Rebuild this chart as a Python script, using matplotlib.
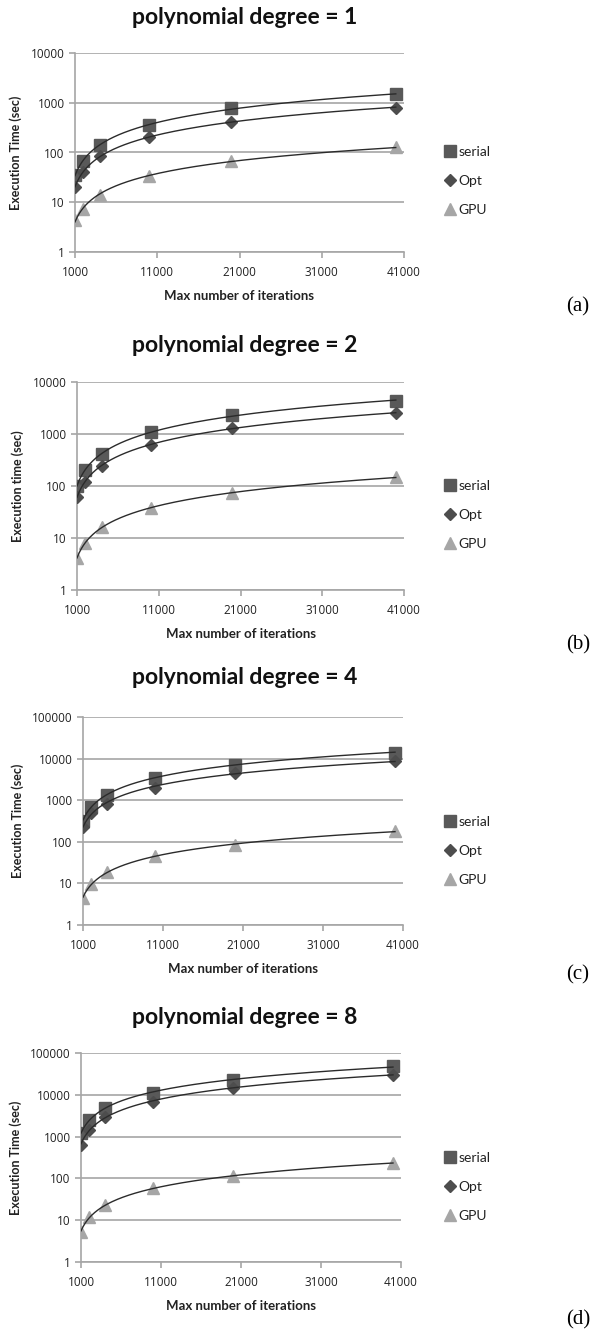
import numpy as np
import matplotlib
matplotlib.use("Agg")
import matplotlib.pyplot as plt
from matplotlib.ticker import FixedLocator, NullLocator

# max number of iterations (same for all four panels)
iterations = [1000, 2000, 4000, 10000, 20000, 40000]

degrees = [1, 2, 4, 8]
panel_tags = ["(a)", "(b)", "(c)", "(d)"]
ylabels = ["Execution Time (sec)", "Execution time (sec)",
           "Execution Time (sec)", "Execution Time (sec)"]
ymax = [10000, 10000, 100000, 100000]

serial_d1 = [35, 69, 140, 350, 790, 1480]
opt_d1 = [20, 41, 84, 207, 415, 790]
gpu_d1 = [4.3, 7.3, 14.3, 33, 69, 127]

serial_d2 = [100, 204, 415, 1100, 2300, 4300]
opt_d2 = [62, 120, 245, 615, 1300, 2570]
gpu_d2 = [4.2, 7.9, 16, 38, 72, 150]

serial_d4 = [324, 690, 1370, 3450, 7200, 14000]
opt_d4 = [229, 500, 790, 1990, 4500, 8900]
gpu_d4 = [4.5, 9.5, 18.7, 45, 86, 177]

serial_d8 = [1200, 2500, 4800, 11000, 23000, 48000]
opt_d8 = [630, 1450, 3000, 6900, 14500, 30000]
gpu_d8 = [5.2, 12, 23, 58, 114, 230]

serial_all = [serial_d1, serial_d2, serial_d4, serial_d8]
opt_all = [opt_d1, opt_d2, opt_d4, opt_d8]
gpu_all = [gpu_d1, gpu_d2, gpu_d4, gpu_d8]

W, H = 595, 1334
fig = plt.figure(figsize=(W / 100, H / 100), dpi=100)
fig.patch.set_facecolor("white")

# pixel boxes: left, top, right, bottom of plot area
boxes = [(75, 53, 404, 252), (77, 382, 404, 590),
         (83, 717, 403, 925), (81, 1053, 401, 1262)]
title_ys = [18, 345, 678, 1017]
legend_ys = [181, 515, 851, 1187]
tag_ys = [307, 645, 975, 1320]

title_font = ["Lato", "DejaVu Sans"]
tick_font = ["Open Sans", "DejaVu Sans"]
grid_col = "#a6a6a6"


def power_fit(x, y):
    b, a = np.polyfit(np.log(x), np.log(y), 1)
    xs = np.linspace(min(x), max(x), 300)
    return xs, np.exp(a) * xs ** b


for i in range(4):
    l, t, r, b = boxes[i]
    ax = fig.add_axes([l / W, 1 - b / H, (r - l) / W, (b - t) / H])
    x = iterations

    series = [
        (serial_all[i], "s", "#595959", 8.5, "serial"),
        (opt_all[i], "D", "#4d4d4d", 6, "Opt"),
        (gpu_all[i], "^", "#a6a6a6", 8.5, "GPU"),
    ]
    for y, m, c, ms, name in series:
        ax.plot(x, y, linestyle="none", marker=m, color=c, markersize=ms,
                label=name, zorder=3)
    for y, m, c, ms, name in series:
        xs, ys = power_fit(x, y)
        ax.plot(xs, ys, color="#2b2b2b", linewidth=1.0, zorder=4)

    ax.set_yscale("log")
    ax.set_ylim(1, ymax[i])
    ax.set_xlim(1000, 41000)
    yt = [10 ** k for k in range(int(np.log10(ymax[i])) + 1)]
    ax.yaxis.set_major_locator(FixedLocator(yt))
    ax.yaxis.set_minor_locator(NullLocator())
    ax.set_yticklabels([str(v) for v in yt])
    ax.set_xticks([1000, 11000, 21000, 31000, 41000])
    ax.set_xticklabels(["1000", "11000", "21000", "31000", "41000"])

    ax.grid(axis="y", color=grid_col, linewidth=1.2)
    ax.set_axisbelow(True)
    for s in ["top", "right"]:
        ax.spines[s].set_visible(False)
    for s in ["left", "bottom"]:
        ax.spines[s].set_color(grid_col)
        ax.spines[s].set_linewidth(1.2)
    ax.tick_params(axis="both", colors=grid_col, labelcolor="#222222",
                   labelsize=8.5, length=4, width=1.2)
    ax.tick_params(axis="x", pad=6)
    for lab in ax.get_xticklabels() + ax.get_yticklabels():
        lab.set_family(tick_font)

    ax.set_xlabel("Max number of iterations", fontsize=9.5, fontweight="bold",
                  family=title_font, color="#222222", labelpad=8)
    ax.set_ylabel(ylabels[i], fontsize=9, fontweight="bold",
                  family=title_font, color="#222222", labelpad=6)

    fig.text(245 / W, 1 - title_ys[i] / H, f"polynomial degree = {degrees[i]}",
             ha="center", va="center", fontsize=16.5, fontweight="bold",
             family=title_font, color="#111111")

    leg = ax.legend(loc="center left",
                    bbox_to_anchor=(436 / W, 1 - legend_ys[i] / H),
                    bbox_transform=fig.transFigure,
                    frameon=False, handletextpad=0.1, handlelength=1.0,
                    labelspacing=1.2, borderpad=0,
                    prop={"family": title_font, "size": 10})
    for txt in leg.get_texts():
        txt.set_color("#222222")

    fig.text(578 / W, 1 - tag_ys[i] / H, panel_tags[i], ha="center",
             va="center", fontsize=15,
             family=["Liberation Serif", "DejaVu Serif"])

fig.savefig("out.png", dpi=100, facecolor="white")
